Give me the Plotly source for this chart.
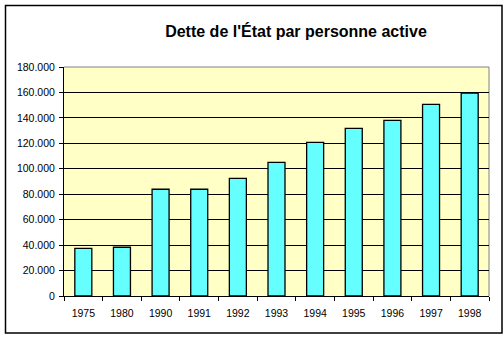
import plotly.graph_objects as go

# Debt of the State per working person, by year
years = ["1975", "1980", "1990", "1991", "1992", "1993",
         "1994", "1995", "1996", "1997", "1998"]
dette = [37500, 38300, 83900, 83900, 92500, 105100,
         120800, 131800, 138000, 150600, 159500]
y_ticks = [0, 20000, 40000, 60000, 80000, 100000,
           120000, 140000, 160000, 180000]

W, H = 504, 338
L, R, T, B = 64, 15, 67, 42
pw, ph = W - L - R, H - T - B

def px_x(x):
    return (x - L) / pw

def px_y(y):
    return (H - B - y) / ph

fig = go.Figure()
fig.add_trace(go.Bar(
    x=years, y=dette,
    marker=dict(color="#66FFFF", line=dict(color="black", width=1.3)),
    width=0.44,
))

font = "Arial, Liberation Sans, sans-serif"

fig.update_layout(
    width=W, height=H,
    margin=dict(l=L, r=R, t=T, b=B),
    paper_bgcolor="white",
    plot_bgcolor="#FFFFC6",
    separators=",.",
    showlegend=False,
    font=dict(family=font, size=11, color="black"),
    title=dict(
        text="<b>Dette de l'État par personne active</b>",
        font=dict(family=font, size=16, color="black"),
        x=296 / W, xanchor="center",
        y=1 - 31 / H, yanchor="middle",
        xref="container", yref="container",
    ),
    xaxis=dict(
        type="category",
        showline=True, linecolor="black", linewidth=1,
        ticks="outside", ticklen=4, tickcolor="black", tickwidth=1,
        tickson="boundaries",
        ticklabelstandoff=7,
        showgrid=False,
        tickfont=dict(size=10.5),
    ),
    yaxis=dict(
        range=[0, 180000],
        tickvals=y_ticks,
        tickformat=",d",
        showline=True, linecolor="black", linewidth=1,
        ticks="outside", ticklen=4, tickcolor="black", tickwidth=1,
        ticklabelstandoff=2,
        showgrid=True, gridcolor="black", gridwidth=1,
        zeroline=False,
        tickfont=dict(size=10.5),
    ),
    shapes=[
        # grey border of the plotting area (top and right)
        dict(type="line", xref="paper", yref="paper",
             x0=0, x1=1, y0=1, y1=1,
             line=dict(color="#808080", width=1), layer="below"),
        dict(type="line", xref="paper", yref="paper",
             x0=1, x1=1, y0=0, y1=1,
             line=dict(color="#808080", width=1), layer="below"),
        # outer chart frame
        dict(type="rect", xref="paper", yref="paper",
             x0=px_x(5.5), x1=px_x(502), y0=px_y(333), y1=px_y(5.5),
             line=dict(color="black", width=1.5),
             fillcolor="rgba(0,0,0,0)"),
    ],
)

fig.write_html("out.html")
